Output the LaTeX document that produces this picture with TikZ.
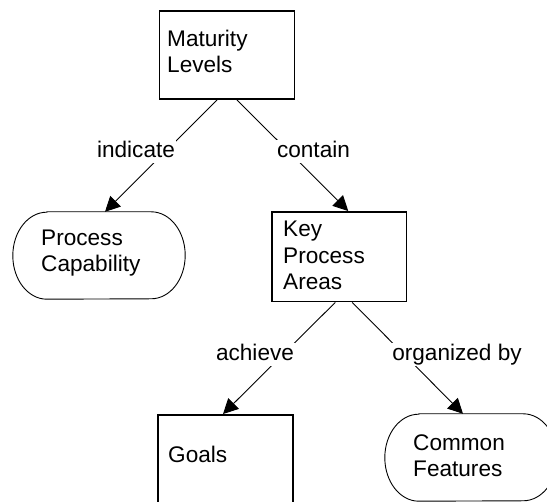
\documentclass[tikz,border=0pt]{standalone}
\usepackage{fontspec}
\setmainfont{Liberation Sans}
\usetikzlibrary{arrows.meta}
\newcommand\mypill[1]{\draw[pilloutline] ([xshift=34pt]#1.north west) -- ([xshift=-34pt]#1.north east) arc[start angle=90,end angle=-90,x radius=34pt,y radius=43.5pt] -- ([xshift=34pt]#1.south west) arc[start angle=270,end angle=90,x radius=34pt,y radius=43.5pt] -- cycle;}
\begin{document}
\begin{tikzpicture}[x=1pt,y=1pt,
  lbl/.style={font=\fontsize{22.6}{26.5}\selectfont},
  boxnode/.style={draw, line width=1.9pt, minimum width=135pt, minimum height=88pt, inner sep=0pt},
  pillnode/.style={minimum width=172pt, minimum height=87pt, inner sep=0pt},
  pilloutline/.style={line width=0.9pt},
  txt/.style={lbl, align=left, anchor=base west, inner sep=0pt},
  rel/.style={lbl, fill=white, anchor=base, inner sep=1.5pt, text height=16pt, text depth=4pt},
  conn/.style={line width=0.9pt, -{Triangle[length=15pt,width=15pt]}}
]
\useasboundingbox (0,0) rectangle (547,502);
\clip (0,0) rectangle (547,502);

\node[boxnode] (ml) at (227,447) {};
\node[pillnode] (pc) at (99,246.5) {};
\node[boxnode, minimum width=134.5pt, minimum height=89.5pt] (kpa) at (339.25,245.25) {};
\node[boxnode, minimum height=89pt] (goals) at (225.5,42.5) {};
\node[pillnode] (cf) at (471,44.5) {};
\mypill{pc}
\mypill{cf}

\node[txt] (mlt) at (167,429) {Maturity\\Levels};
\node[txt] (pct) at (41,230) {Process\\Capability};
\node[txt] (kpat) at (283,212) {Key\\Process\\Areas};
\node[txt] (goalst) at (168,39) {Goals};
\node[txt] (cft) at (413,25) {Common\\Features};

\draw[conn] ([xshift=-10pt]ml.south) -- ([xshift=6pt]pc.north);
\draw[conn] ([xshift=10pt]ml.south) -- ([xshift=9pt]kpa.north);
\draw[conn] ([xshift=-4pt]kpa.south) -- ([xshift=-2.5pt]goals.north);
\draw[conn] ([xshift=13pt]kpa.south) -- ([xshift=-8pt]cf.north);

\node[rel] (l1) at (136,344) {indicate};
\node[rel] (l2) at (313.5,344) {contain};
\node[rel] (l3) at (255,141) {achieve};
\node[rel] (l4) at (457,141) {organized by};
\end{tikzpicture}
\end{document}
